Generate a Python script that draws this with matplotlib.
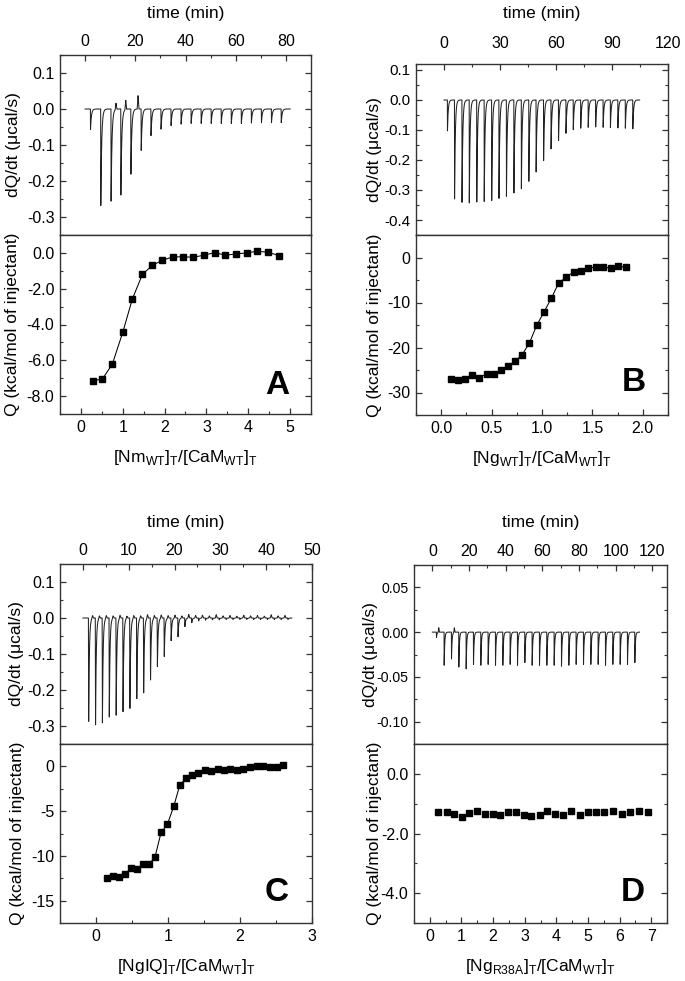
import matplotlib
matplotlib.use("Agg")
import matplotlib.pyplot as plt
import numpy as np
from matplotlib.ticker import MultipleLocator, FormatStrFormatter

plt.rcParams['font.family'] = ['Liberation Sans', 'DejaVu Sans']
plt.rcParams['axes.unicode_minus'] = False
plt.rcParams['mathtext.fontset'] = 'custom'
plt.rcParams['mathtext.rm'] = 'Liberation Sans'

# ---- raw thermograms: injection time (min) and peak height (ucal/s) ----
A_times = [2.1, 6.2, 10.3, 14.2, 18.2, 22.3, 26.2, 30.2, 34.2, 38.2, 42.2, 46.2,
           50.2, 54.2, 58.2, 62.2, 66.2, 70.2, 74.2, 78.1]
A_peaks = [-0.057, -0.268, -0.256, -0.239, -0.181, -0.115, -0.074, -0.056, -0.046,
           -0.042, -0.040, -0.040, -0.040, -0.040, -0.040, -0.040, -0.039, -0.038,
           -0.038, -0.038]
A_bump_times = [12.3, 16.2, 21.1]
A_bump_heights = [0.017, 0.025, 0.037]
A_end = 81.7

B_times = [1.8, 5.6, 9.6, 13.5, 17.5, 21.5, 25.5, 29.4, 33.4, 37.4, 41.4, 45.4, 49.3,
           53.3, 57.3, 61.3, 65.3, 69.2, 73.2, 77.2, 81.2, 85.2, 89.1, 93.1, 97.1, 101.1]
B_peaks = [-0.103, -0.330, -0.341, -0.343, -0.340, -0.338, -0.335, -0.328, -0.321,
           -0.310, -0.296, -0.271, -0.240, -0.202, -0.163, -0.135, -0.111, -0.099,
           -0.094, -0.091, -0.090, -0.091, -0.092, -0.093, -0.094, -0.096]
B_end = 104.8

C_times = [1.2, 2.7, 4.2, 5.7, 7.2, 8.7, 10.2, 11.7, 13.2, 14.7, 16.2, 17.7, 19.2,
           20.7, 22.2, 23.7, 25.2, 26.7, 28.2, 29.7, 31.2, 32.7, 34.2, 35.7, 37.2,
           38.7, 40.2, 41.7, 43.2, 44.7]
C_peaks = [-0.287, -0.297, -0.291, -0.275, -0.270, -0.260, -0.251, -0.224, -0.208,
           -0.172, -0.135, -0.107, -0.063, -0.052, -0.024, -0.013, -0.008, -0.006,
           -0.005, -0.005, -0.004, -0.004, -0.004, -0.004, -0.004, -0.004, -0.004,
           -0.004, -0.004, -0.004]
C_bump_times = [2.1, 3.6, 5.1, 6.6, 8.1, 9.6, 11.1, 12.6, 14.1, 15.6, 17.1, 18.6,
                20.1, 21.6, 23.1, 24.6, 26.1, 27.6, 29.1, 30.6, 32.1, 33.6, 35.1,
                36.6, 38.1, 39.6, 41.1, 42.6, 44.1]
C_bump_heights = [0.008, 0.007, 0.008, 0.007, 0.009, 0.006, 0.008, 0.007, 0.010,
                  0.008, 0.009, 0.007, 0.008, 0.006, 0.010, 0.007, 0.008, 0.006,
                  0.009, 0.006, 0.007, 0.005, 0.008, 0.006, 0.007, 0.005, 0.009,
                  0.006, 0.007]
C_end = 45.6

D_times = [2.2, 6.4, 10.4, 14.4, 18.4, 22.4, 26.4, 30.4, 34.4, 38.4, 42.4, 46.4,
           50.4, 54.4, 58.4, 62.4, 66.4, 70.4, 74.4, 78.4, 82.4, 86.4, 90.4, 94.4,
           98.4, 102.4, 106.4, 110.4]
D_peaks = [-0.006, -0.037, -0.030, -0.039, -0.041, -0.036, -0.037, -0.036, -0.037,
           -0.037, -0.036, -0.037, -0.034, -0.037, -0.037, -0.037, -0.037, -0.038,
           -0.037, -0.036, -0.036, -0.036, -0.036, -0.037, -0.036, -0.036, -0.036,
           -0.034]
D_bump_times = [3.5, 12.0]
D_bump_heights = [0.005, 0.005]
D_end = 113.0

# ---- integrated heats: molar ratio and Q (kcal/mol of injectant) ----
A_ratio = [0.29, 0.51, 0.75, 1.00, 1.23, 1.47, 1.71, 1.95, 2.20, 2.44, 2.69, 2.94,
           3.20, 3.45, 3.70, 3.96, 4.21, 4.47, 4.73]
A_heat = [-7.13, -7.06, -6.22, -4.44, -2.57, -1.20, -0.69, -0.41, -0.22, -0.22, -0.24,
          -0.13, 0.02, -0.13, -0.06, 0.0, 0.09, 0.04, -0.15]

B_ratio = [0.099, 0.164, 0.234, 0.306, 0.378, 0.451, 0.520, 0.589, 0.661, 0.734, 0.803,
           0.875, 0.947, 1.020, 1.092, 1.164, 1.240, 1.313, 1.388, 1.457, 1.533, 1.605,
           1.681, 1.757, 1.832]
B_heat = [-27.1, -27.3, -27.1, -26.2, -26.7, -25.9, -25.9, -25.1, -24.1, -23.0, -21.6,
          -19.0, -15.1, -12.1, -9.1, -5.7, -4.4, -3.2, -3.0, -2.4, -2.1, -2.1, -2.4,
          -1.9, -2.2]

C_ratio = [0.153, 0.236, 0.320, 0.403, 0.491, 0.570, 0.654, 0.737, 0.821, 0.904, 0.992,
           1.080, 1.164, 1.252, 1.335, 1.423, 1.511, 1.599, 1.688, 1.776, 1.864, 1.952,
           2.045, 2.137, 2.230, 2.323, 2.415, 2.508, 2.601]
C_heat = [-12.44, -12.29, -12.36, -11.99, -11.40, -11.51, -10.96, -10.96, -10.07, -7.38,
          -6.46, -4.46, -2.07, -1.33, -0.92, -0.70, -0.37, -0.48, -0.26, -0.37, -0.33,
          -0.37, -0.33, -0.07, 0.04, 0.07, -0.11, -0.11, 0.11]

D_ratio = [0.265, 0.53, 0.77, 1.01, 1.24, 1.48, 1.74, 1.99, 2.23, 2.47, 2.71, 2.97,
           3.21, 3.47, 3.72, 3.97, 4.22, 4.47, 4.74, 4.99, 5.25, 5.52, 5.79, 6.07,
           6.34, 6.62, 6.90]
D_heat = [-1.28, -1.28, -1.36, -1.44, -1.31, -1.26, -1.34, -1.34, -1.37, -1.29, -1.29,
          -1.39, -1.43, -1.39, -1.26, -1.34, -1.39, -1.24, -1.37, -1.27, -1.27, -1.28,
          -1.26, -1.36, -1.27, -1.26, -1.28]


def thermogram(times, peaks, end, tau, bump_t=(), bump_h=(), rise=0.06, bump_w=0.35):
    # draw each injection as a sharp drop to its peak and a quick recovery
    t = np.arange(0, end, 0.005)
    y = np.zeros_like(t)
    for t0, d in zip(times, peaks):
        s = t - t0
        y += np.where((s >= 0) & (s < rise), d * s / rise, 0.0)
        y += np.where(s >= rise, d * np.exp(-np.clip(s - rise, 0, None) / tau), 0.0)
    for tb, h in zip(bump_t, bump_h):
        y += h * np.clip(1 - np.abs(t - tb) / bump_w, 0, None)
    return t, y


W, H = 685, 981
fig = plt.figure(figsize=(W / 100, H / 100), dpi=100)


def px_axes(l, t, r, b):
    return fig.add_axes([l / W, 1 - b / H, (r - l) / W, (b - t) / H])


def style(ax):
    for sp in ax.spines.values():
        sp.set_color('#333333')
        sp.set_linewidth(1.0)
    ax.tick_params(which='both', direction='in', labelsize=11.5, color='#333333')
    ax.tick_params(which='major', length=4, width=0.9)
    ax.tick_params(which='minor', length=2.5, width=0.8)


def top_panel(ax, t, y, xlim, ylim, xmaj, ymaj, yfmt, tickpad, lab_y, ylab_x,
              ysize=11.5):
    ax.plot(t, y, color='#222222', lw=0.75)
    ax.set_xlim(*xlim)
    ax.set_ylim(*ylim)
    style(ax)
    ax.xaxis.set_major_locator(MultipleLocator(xmaj))
    ax.xaxis.set_minor_locator(MultipleLocator(xmaj / 2))
    ax.yaxis.set_major_locator(MultipleLocator(ymaj))
    ax.yaxis.set_minor_locator(MultipleLocator(ymaj / 2))
    ax.yaxis.set_major_formatter(FormatStrFormatter(yfmt))
    ax.xaxis.set_major_formatter(FormatStrFormatter('%d'))
    ax.xaxis.set_label_position('top')
    ax.tick_params(axis='x', which='both', top=True, bottom=False,
                   labeltop=True, labelbottom=False, pad=tickpad)
    ax.tick_params(axis='y', which='both', left=True, right=True,
                   labelleft=True, labelright=False, pad=4, labelsize=ysize)
    ax.set_xlabel('time (min)', fontsize=12.5)
    ax.xaxis.set_label_coords(0.5, lab_y)
    ax.set_ylabel('dQ/dt (\u03bccal/s)', fontsize=12.5)
    ax.yaxis.set_label_coords(ylab_x, 0.5)


def bottom_panel(ax, x, q, line, xlim, ylim, xmaj, ymaj, xfmt, yfmt, xlabel,
                 letter, letter_xy, ylab_x):
    ax.plot(x, q, color='black', lw=0.75 if line else 0, marker='s', ms=5,
            mfc='black', mec='black')
    ax.set_xlim(*xlim)
    ax.set_ylim(*ylim)
    style(ax)
    ax.xaxis.set_major_locator(MultipleLocator(xmaj))
    ax.xaxis.set_minor_locator(MultipleLocator(xmaj / 2))
    ax.yaxis.set_major_locator(MultipleLocator(ymaj))
    ax.yaxis.set_minor_locator(MultipleLocator(ymaj / 2))
    ax.xaxis.set_major_formatter(FormatStrFormatter(xfmt))
    ax.yaxis.set_major_formatter(FormatStrFormatter(yfmt))
    ax.tick_params(axis='x', which='both', top=False, bottom=True, pad=4)
    ax.tick_params(axis='y', which='both', left=True, right=True,
                   labelright=False, pad=4)
    ax.set_xlabel(xlabel, fontsize=12.5)
    ax.xaxis.set_label_coords(0.5, -0.19)
    ax.set_ylabel('Q (kcal/mol of injectant)', fontsize=12.5)
    ax.yaxis.set_label_coords(ylab_x, 0.5)
    ax.text(letter_xy[0], letter_xy[1], letter, transform=ax.transAxes,
            fontsize=24, fontweight='bold', ha='right', va='center')


# panel A
ax = px_axes(60, 55, 311, 235)
t, y = thermogram(A_times, A_peaks, A_end, 0.35, A_bump_times, A_bump_heights)
top_panel(ax, t, y, (-10, 90), (-0.35, 0.15), 20, 0.1, '%.1f', 4,
          1 + 37 / 180, -38.5 / 251)
ax = px_axes(60, 235, 311, 414)
bottom_panel(ax, A_ratio, A_heat, True, (-0.5, 5.5), (-9, 1), 1, 2, '%d', '%.1f',
             r'[Nm$_\mathregular{WT}$]$_\mathregular{T}$/[CaM$_\mathregular{WT}$]$_\mathregular{T}$',
             'A', (0.912, 0.162), -39.5 / 251)

# panel B
ax = px_axes(416, 64, 668, 235)
t, y = thermogram(B_times, B_peaks, B_end, 0.4)
top_panel(ax, t, y, (-15, 120), (-0.45, 0.12), 30, 0.1, '%.1f', 9,
          1 + 46 / 171, -34.5 / 252, ysize=11)
ax = px_axes(416, 235, 668, 415)
bottom_panel(ax, B_ratio, B_heat, True, (-0.25, 2.25), (-35, 5), 0.5, 10, '%.1f', '%d',
             r'[Ng$_\mathregular{WT}$]$_\mathregular{T}$/[CaM$_\mathregular{WT}$]$_\mathregular{T}$',
             'B', (0.913, 0.18), -34.5 / 252)

# panel C
ax = px_axes(60, 564, 312, 744)
t, y = thermogram(C_times, C_peaks, C_end, 0.15, C_bump_times, C_bump_heights,
                  bump_w=0.2)
top_panel(ax, t, y, (-5, 50), (-0.35, 0.15), 10, 0.1, '%.1f', 4,
          1 + 37 / 180, -35.5 / 252)
ax = px_axes(60, 744, 312, 923)
bottom_panel(ax, C_ratio, C_heat, True, (-0.5, 3), (-17.5, 2.5), 1, 5, '%d', '%d',
             r'[NgIQ]$_\mathregular{T}$/[CaM$_\mathregular{WT}$]$_\mathregular{T}$',
             'C', (0.909, 0.173), -35 / 252)

# panel D
ax = px_axes(414, 565, 667, 744)
t, y = thermogram(D_times, D_peaks, D_end, 0.3, D_bump_times, D_bump_heights)
top_panel(ax, t, y, (-10, 128), (-0.125, 0.075), 20, 0.05, '%.2f', 4,
          1 + 38 / 179, -35.5 / 253, ysize=10.2)
ax = px_axes(414, 744, 667, 923)
bottom_panel(ax, D_ratio, D_heat, False, (-0.5, 7.5), (-5, 1), 1, 2, '%d', '%.1f',
             r'[Ng$_\mathregular{R38A}$]$_\mathregular{T}$/[CaM$_\mathregular{WT}$]$_\mathregular{T}$',
             'D', (0.913, 0.173), -32.5 / 253)

fig.savefig('out.png', dpi=100)
